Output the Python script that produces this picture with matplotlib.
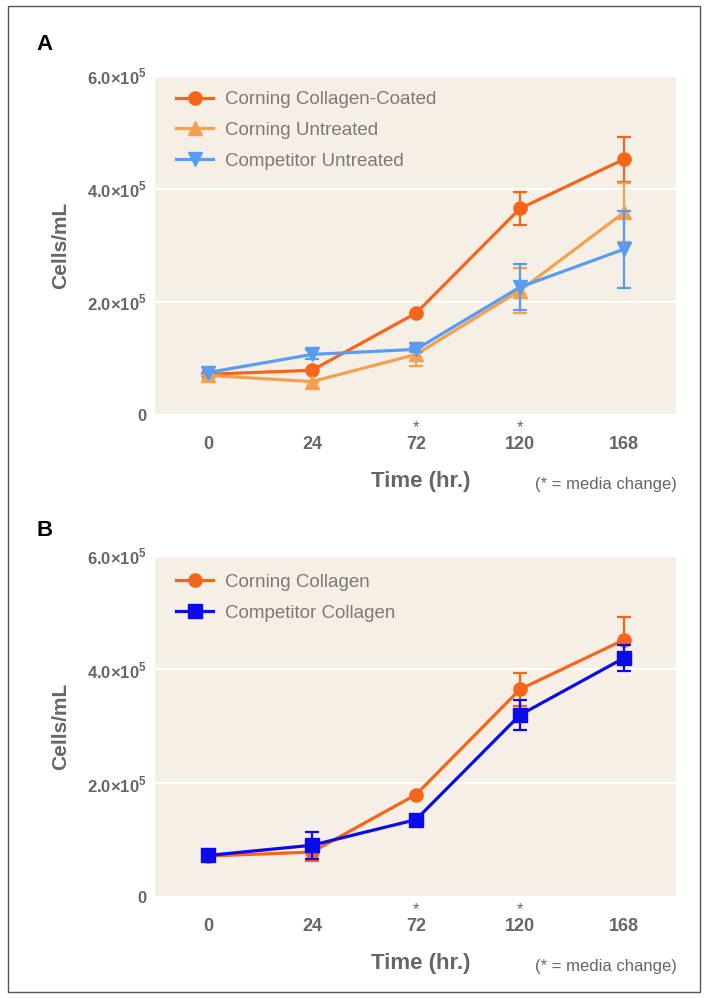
import matplotlib
matplotlib.use("Agg")
import matplotlib.pyplot as plt
from matplotlib.patches import Rectangle

plt.rcParams["font.family"] = ["Liberation Sans", "DejaVu Sans"]
plt.rcParams["mathtext.fontset"] = "custom"
plt.rcParams["mathtext.rm"] = "Liberation Sans"
plt.rcParams["mathtext.bf"] = "Liberation Sans:bold"

# ---- data (cells/mL) ----
time_labels = ["0", "24", "72", "120", "168"]
media_change = ["72", "120"]

a_coated = [0.72e5, 0.79e5, 1.80e5, 3.65e5, 4.52e5]
a_coated_err = [0, 0, 0, 0.29e5, 0.40e5]
a_untreated = [0.70e5, 0.59e5, 1.07e5, 2.20e5, 3.58e5]
a_untreated_err = [0, 0, 0.20e5, 0.40e5, 0.52e5]
a_competitor = [0.75e5, 1.07e5, 1.16e5, 2.26e5, 2.93e5]
a_competitor_err = [0, 0.08e5, 0.05e5, 0.40e5, 0.68e5]

b_corning = [0.72e5, 0.79e5, 1.80e5, 3.65e5, 4.52e5]
b_corning_err = [0, 0.15e5, 0, 0.29e5, 0.40e5]
b_competitor = [0.73e5, 0.91e5, 1.36e5, 3.20e5, 4.20e5]
b_competitor_err = [0, 0.24e5, 0, 0.27e5, 0.22e5]

y_ticks = [0, 2e5, 4e5, 6e5]
y_tick_labels = ["0", "2.0\u00d710$^{\\mathbf{5}}$", "4.0\u00d710$^{\\mathbf{5}}$",
                 "6.0\u00d710$^{\\mathbf{5}}$"]

BG = "#F6EFE5"
GREY = "#666666"
C_COATED = "#F7651A"
C_UNTREATED = "#F5A04E"
C_COMPETITOR = "#5A9CF2"
C_BLUE = "#0A0AEB"


def series(ax, values, errs, color, marker, ms, label, z):
    x = list(range(len(values)))
    ax.errorbar(x, values, yerr=errs, fmt="none", ecolor=color, elinewidth=1.6,
                capsize=5, capthick=1.6, zorder=z)
    ax.plot(x, values, color=color, lw=2.3, marker=marker, ms=ms,
            label=label, zorder=z + 0.5)


def style_axes(ax, legend_y):
    ax.set_facecolor(BG)
    for s in ax.spines.values():
        s.set_visible(False)
    ax.set_xlim(-0.51, 4.5)
    ax.set_ylim(0, 6.01e5)
    ax.set_xticks(range(len(time_labels)))
    ax.set_xticklabels(time_labels, fontsize=13, fontweight="bold", color=GREY)
    ax.set_yticks(y_ticks)
    ax.set_yticklabels(y_tick_labels, fontsize=12, fontweight="bold", color=GREY)
    ax.tick_params(axis="x", length=0, pad=15)
    ax.tick_params(axis="y", length=0, pad=6)
    ax.yaxis.grid(True, color="white", lw=1.5)
    ax.set_axisbelow(True)
    ax.set_ylabel("Cells/mL", fontsize=15, fontweight="bold", color=GREY, labelpad=12)
    for lab in media_change:
        ax.annotate("*", xy=(time_labels.index(lab), 0), xycoords=("data", "axes fraction"),
                    xytext=(0, -9), textcoords="offset points", ha="center", va="center",
                    fontsize=12, color=GREY)
    ax.annotate("Time (hr.)", xy=(0.51, 0), xycoords="axes fraction", xytext=(0, -48),
                textcoords="offset points", ha="center", va="center",
                fontsize=16, fontweight="bold", color=GREY)
    ax.annotate("(* = media change)", xy=(0.866, 0), xycoords="axes fraction",
                xytext=(0, -50), textcoords="offset points", ha="center", va="center",
                fontsize=12, color=GREY)
    leg = ax.legend(loc="upper left", bbox_to_anchor=(0.04, legend_y), frameon=False,
                    borderpad=0, borderaxespad=0, handlelength=2.0, handletextpad=0.6,
                    labelspacing=0.72, fontsize=13.5)
    for t in leg.get_texts():
        t.set_color("#7A7A7A")


fig = plt.figure(figsize=(7.07, 9.98), dpi=100)

ax_a = fig.add_axes([0.2192, 0.5842, 0.737, 0.3407])
series(ax_a, a_coated, a_coated_err, C_COATED, "o", 9.5, "Corning Collagen-Coated", 3)
series(ax_a, a_untreated, a_untreated_err, C_UNTREATED, "^", 9.5, "Corning Untreated", 4)
series(ax_a, a_competitor, a_competitor_err, C_COMPETITOR, "v", 10, "Competitor Untreated", 5)
style_axes(ax_a, 0.952)

ax_b = fig.add_axes([0.2192, 0.1012, 0.737, 0.3427])
series(ax_b, b_corning, b_corning_err, C_COATED, "o", 9.5, "Corning Collagen", 3)
series(ax_b, b_competitor, b_competitor_err, C_BLUE, "s", 9.5, "Competitor Collagen", 4)
style_axes(ax_b, 0.945)

fig.text(36 / 707, 1 - 45 / 998, "A", fontsize=16, fontweight="bold", va="center")
fig.text(36 / 707, 1 - 531 / 998, "B", fontsize=16, fontweight="bold", va="center")

fig.patches.append(Rectangle((8 / 707, 6 / 998), 692 / 707, 986 / 998, fill=False,
                             edgecolor="#555555", lw=1, transform=fig.transFigure))

fig.savefig("out.png", dpi=100)
